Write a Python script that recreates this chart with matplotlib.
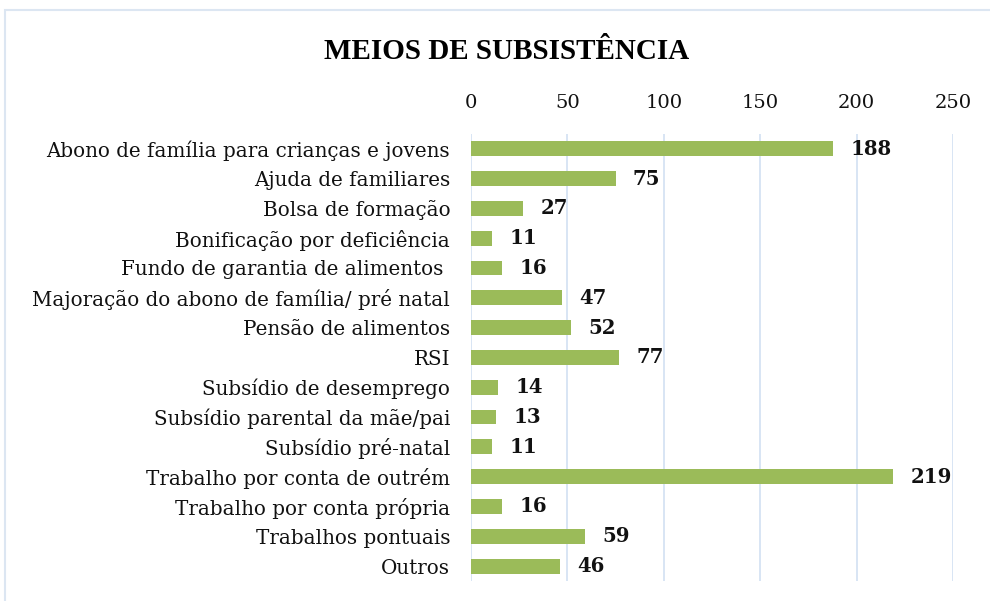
import matplotlib.pyplot as plt
from matplotlib.patches import Rectangle

categorias = ["Abono de família para crianças e jovens", "Ajuda de familiares",
              "Bolsa de formação", "Bonificação por deficiência",
              "Fundo de garantia de alimentos ", "Majoração do abono de família/ pré natal",
              "Pensão de alimentos", "RSI", "Subsídio de desemprego",
              "Subsídio parental da mãe/pai", "Subsídio pré-natal",
              "Trabalho por conta de outrém", "Trabalho por conta própria",
              "Trabalhos pontuais", "Outros"]
valores = [188, 75, 27, 11, 16, 47, 52, 77, 14, 13, 11, 219, 16, 59, 46]
ticks = [0, 50, 100, 150, 200, 250]

plt.rcParams['font.family'] = ['DejaVu Serif']

fig = plt.figure(figsize=(9.9, 6.01), dpi=100)
ax = fig.add_axes([0.4758, 0.0333, 0.4868, 0.744])

y = list(range(len(categorias)))
ax.barh(y, valores, height=0.5, color='#9BBB59', zorder=3)
for yi, v in zip(y, valores):
    ax.text(v + 9, yi, str(v), va='center', ha='left', fontsize=14.2,
            fontweight='bold', color='#111111')

ax.set_xlim(0, 250)
ax.set_ylim(14.5, -0.5)
ax.set_xticks(ticks)
ax.xaxis.tick_top()
ax.set_yticks(y)
ax.set_yticklabels(categorias)
ax.tick_params(axis='y', length=0, labelsize=14.3, colors='#111111', pad=15)
ax.tick_params(axis='x', length=0, labelsize=14, colors='#111111', pad=16)
ax.grid(axis='x', color='#D6E3F3', linewidth=1.3, zorder=0)
for s in ax.spines.values():
    s.set_visible(False)

fig.text(0.5115, 0.915, "MEIOS DE SUBSISTÊNCIA", ha='center', va='center',
         fontsize=21, fontweight='bold', family='Liberation Serif')

fig.patches.append(Rectangle((5/990, -0.05), 1.1, 1 - 10/601 + 0.05,
                             transform=fig.transFigure, fill=False,
                             edgecolor='#DCE6F2', linewidth=1.5))

fig.savefig('out.png', dpi=100)
